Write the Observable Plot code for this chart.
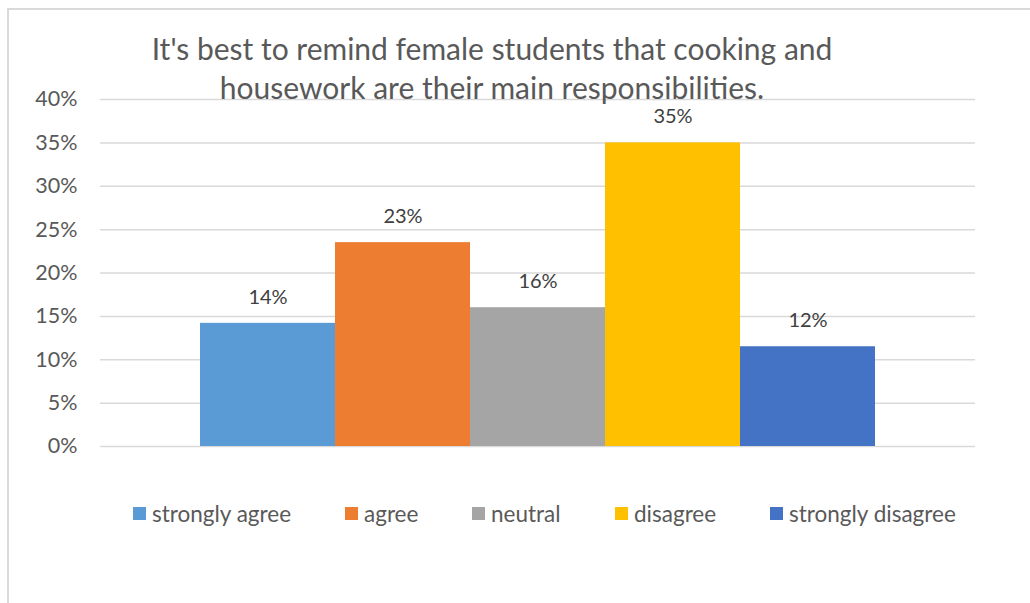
<!DOCTYPE html>
<html>
<head>
<meta charset="utf-8">
<script src="https://cdn.jsdelivr.net/npm/d3@7"></script>
<script src="https://cdn.jsdelivr.net/npm/@observablehq/plot@0.6"></script>
<style>
  html, body { margin: 0; padding: 0; background: #fff; }
  #wrap { position: relative; width: 1030px; height: 603px; overflow: hidden; font-family: Lato, "Open Sans", sans-serif; }
  #frame { position: absolute; left: 7px; top: 8px; width: 1040px; height: 620px; border: 2px solid #D9D9D9; box-sizing: border-box; }
  #title { position: absolute; left: 42px; width: 900px; top: 29px; text-align: center; font-size: 30px; line-height: 39px; color: #595959; }
  #chart { position: absolute; left: 0; top: 0; }
  #legend { position: absolute; top: 499px; left: 0; width: 1030px; height: 28px; font-size: 22.5px; color: #595959; }
  .item { position: absolute; top: 0; display: flex; align-items: center; height: 28px; }
  .sw { width: 13px; height: 13px; margin-right: 6px; }
</style>
</head>
<body>
<div id="wrap">
  <div id="frame"></div>
  <div id="chart"></div>
  <div id="title">It's best to remind female students that cooking and<br>housework are their main responsibilities.</div>
  <div id="legend"></div>
</div>
<script>
const categories = ["strongly agree", "agree", "neutral", "disagree", "strongly disagree"];
const values = [0.142, 0.235, 0.160, 0.350, 0.115];
const labels = ["14%", "23%", "16%", "35%", "12%"];
const colors = ["#5B9BD5", "#ED7D31", "#A5A5A5", "#FFC000", "#4472C4"];
const yTicks = [0, 0.05, 0.10, 0.15, 0.20, 0.25, 0.30, 0.35, 0.40];
const legendX = [133, 345, 472, 615, 770];

const data = categories.map((c, i) => ({category: c, value: values[i], label: labels[i]}));

const chart = Plot.plot({
  width: 1030,
  height: 603,
  marginLeft: 100,
  marginRight: 55,
  marginTop: 99,
  marginBottom: 157,
  style: {fontFamily: "Lato, 'Open Sans', sans-serif", fontSize: "21.5px", color: "#595959", background: "transparent"},
  x: {domain: categories, paddingInner: 0, paddingOuter: 0.74, axis: null},
  y: {domain: [0, 0.4], ticks: yTicks, tickFormat: d => Math.round(d * 100) + "%", tickSize: 0, tickPadding: 23, label: null},
  color: {domain: categories, range: colors},
  marks: [
    Plot.gridY(yTicks, {stroke: "#D9D9D9", strokeOpacity: 1, strokeWidth: 1.5}),
    Plot.barY(data, {x: "category", y: "value", fill: "category"}),
    Plot.text(data, {x: "category", y: "value", text: "label", dy: -26, fill: "#404040", fontSize: 20})
  ]
});
document.getElementById("chart").appendChild(chart);

const legend = document.getElementById("legend");
categories.forEach((c, i) => {
  const it = document.createElement("div");
  it.className = "item";
  it.style.left = legendX[i] + "px";
  it.innerHTML = `<div class="sw" style="background:${colors[i]}"></div><span>${c}</span>`;
  legend.appendChild(it);
});
</script>
</body>
</html>
